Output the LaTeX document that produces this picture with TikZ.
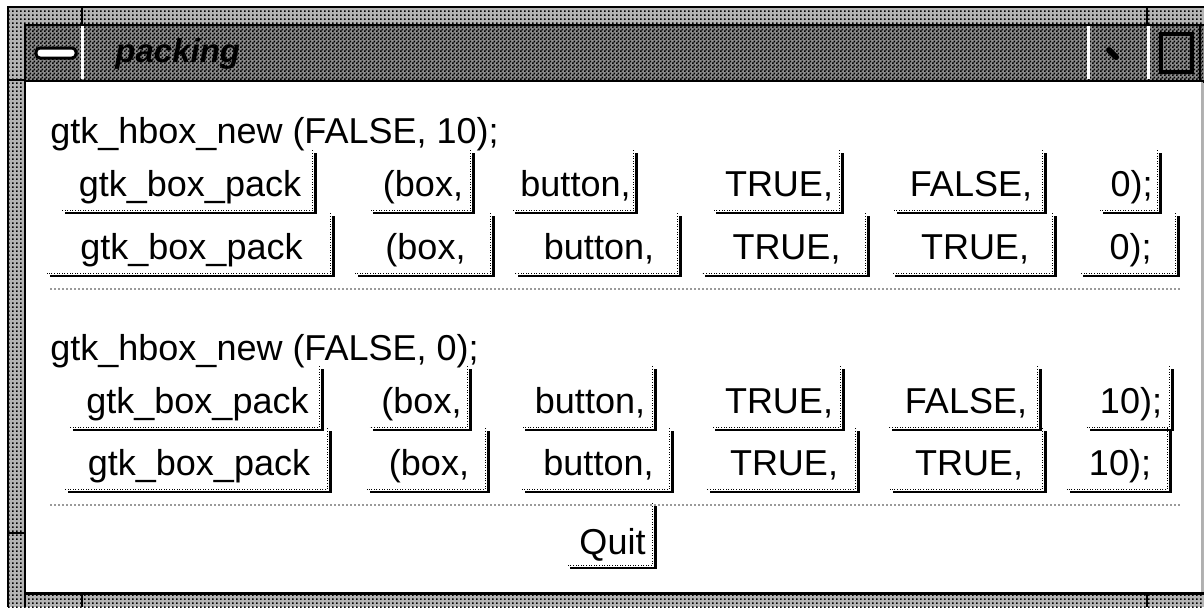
\documentclass[tikz,border=0pt]{standalone}
\usepackage{fontspec}
\setmainfont{Liberation Sans}
\usepackage{tikz}
\usetikzlibrary{patterns,positioning}
\definecolor{inkc}{HTML}{000000}
\definecolor{sepc}{HTML}{9A9A9A}
\definecolor{edgec}{HTML}{B0B0B0}
\definecolor{barc}{HTML}{8C8C8C}
\definecolor{rimc}{HTML}{B4B4B4}
% checker dither for the title bar, sparse one for the window rim
\pgfdeclarepatternformonly{dither}{\pgfqpoint{0pt}{0pt}}{\pgfqpoint{2pt}{2pt}}{\pgfqpoint{2pt}{2pt}}{%
  \pgfpathrectangle{\pgfqpoint{0pt}{0pt}}{\pgfqpoint{1pt}{1pt}}%
  \pgfpathrectangle{\pgfqpoint{1pt}{1pt}}{\pgfqpoint{1pt}{1pt}}%
  \pgfusepath{fill}}
\pgfdeclarepatternformonly{lightdither}{\pgfqpoint{0pt}{0pt}}{\pgfqpoint{2pt}{2pt}}{\pgfqpoint{2pt}{2pt}}{%
  \pgfpathrectangle{\pgfqpoint{0pt}{0pt}}{\pgfqpoint{1pt}{1pt}}%
  \pgfusepath{fill}}
\tikzset{
  btn/.style={inner sep=0pt,anchor=south,text depth=8pt,font=\fontsize{18}{20}\selectfont},
  lbl/.style={inner sep=0pt,anchor=base west,font=\fontsize{18}{20}\selectfont},
  btnedge/.style={inkc,line width=1.2pt},
  btndots/.style={inkc,line width=0.6pt,dash pattern=on 0.5pt off 0.8pt},
  sep/.style={sepc,line width=0.6pt,dash pattern=on 1pt off 1pt},
  rim/.style={pattern=lightdither,pattern color=inkc},
  bar/.style={pattern=dither,pattern color=inkc}
}

\begin{document}
\begin{tikzpicture}[x=0.5pt,y=-0.5pt]
\useasboundingbox (0,0) rectangle (1204,607);
\fill[white] (0,0) rectangle (1204,607);
% window rim with resize handles
\fill[rimc] (8,7) rectangle (1204,607);
\fill[rim] (8,7) rectangle (1204,607);
\draw[inkc,line width=1.2pt] (8,607) -- (8,7) -- (1204,7);
\draw[inkc,line width=1pt] (82,7) -- (82,25) (1147,7) -- (1147,25)
  (8,80) -- (25,80) (8,533) -- (25,533) (82,593) -- (82,607) (1147,593) -- (1147,607);
% title bar
\fill[barc] (25,25) rectangle (1204,81);
\fill[bar] (25,25) rectangle (1204,81);
\draw[inkc,line width=1pt] (25,607) -- (25,25) -- (1204,25);
\draw[inkc,line width=1.5pt] (25,81) -- (1204,81);
\draw[white,line width=1.5pt] (82,26) -- (82,79) (1088,26) -- (1088,79) (1148,26) -- (1148,79);
\draw[inkc,line width=1.5pt,fill=white,rounded corners=2pt] (36,48) rectangle (76,58);
\node[inner sep=0pt,anchor=base west,font=\fontsize{16.5}{18}\selectfont\bfseries\itshape] (title) at (115,62) {packing};
\draw[inkc,line width=3pt,line cap=round] (1109,50) -- (1116,57);
\draw[inkc,line width=2pt] (1161,34) rectangle (1192,72);
\draw[inkc,line width=1pt] (1200,25) -- (1200,81);
% client area
\fill[white] (26,82) rectangle (1203,592);
\draw[edgec,line width=0.6pt] (1202,82) -- (1202,592);
\draw[inkc,line width=1.5pt] (25,593) -- (1204,593);

% first box: spacing 10
\node[lbl] (hbox1) at (50,143) {gtk\_hbox\_new (FALSE, 10);};
\foreach \l/\r/\t [count=\i] in {65/315/{gtk\_box\_pack},373/473/{(box,},515/636/{button,},
    716/842/{TRUE,},897/1045/{FALSE,},1103/1160/{0);}}
{
  \pgfmathsetmacro\w{(\r-\l)/2}
  \node[btn,minimum width=\w pt,text height=21.5pt] (a\i) at ({(\l+\r)/2},213) {\t};
  \draw[btnedge] (a\i.north east) -- (a\i.south east) -- (a\i.south west);
  \draw[btndots] ([shift={(-1.4pt,1.4pt)}]a\i.north east) -- ([shift={(-1.4pt,1.4pt)}]a\i.south east) -- ([shift={(-1.4pt,1.4pt)}]a\i.south west);
}
\foreach \l/\r/\t [count=\i] in {50/333/{gtk\_box\_pack},358/493/{(box,},518/680/{button,},
    705/868/{TRUE,},895/1055/{TRUE,},1083/1178/{0);}}
{
  \pgfmathsetmacro\w{(\r-\l)/2}
  \node[btn,minimum width=\w pt,text height=21.5pt] (b\i) at ({(\l+\r)/2},276) {\t};
  \draw[btnedge] (b\i.north east) -- (b\i.south east) -- (b\i.south west);
  \draw[btndots] ([shift={(-1.4pt,1.4pt)}]b\i.north east) -- ([shift={(-1.4pt,1.4pt)}]b\i.south east) -- ([shift={(-1.4pt,1.4pt)}]b\i.south west);
}
\draw[sep] (50,289) -- (1180,289);

% second box: padding 10
\node[lbl] (hbox2) at (50,360) {gtk\_hbox\_new (FALSE, 0);};
\foreach \l/\r/\t [count=\i] in {73/322/{gtk\_box\_pack},373/470/{(box,},525/655/{button,},
    715/843/{TRUE,},892/1040/{FALSE,},1090/1172/{10);}}
{
  \pgfmathsetmacro\w{(\r-\l)/2}
  \node[btn,minimum width=\w pt,text height=22pt] (c\i) at ({(\l+\r)/2},430) {\t};
  \draw[btnedge] (c\i.north east) -- (c\i.south east) -- (c\i.south west);
  \draw[btndots] ([shift={(-1.4pt,1.4pt)}]c\i.north east) -- ([shift={(-1.4pt,1.4pt)}]c\i.south east) -- ([shift={(-1.4pt,1.4pt)}]c\i.south west);
}
\foreach \l/\r/\t [count=\i] in {68/330/{gtk\_box\_pack},370/488/{(box,},525/672/{button,},
    710/858/{TRUE,},893/1045/{TRUE,},1070/1170/{10);}}
{
  \pgfmathsetmacro\w{(\r-\l)/2}
  \node[btn,minimum width=\w pt,text height=22pt] (d\i) at ({(\l+\r)/2},492) {\t};
  \draw[btnedge] (d\i.north east) -- (d\i.south east) -- (d\i.south west);
  \draw[btndots] ([shift={(-1.4pt,1.4pt)}]d\i.north east) -- ([shift={(-1.4pt,1.4pt)}]d\i.south east) -- ([shift={(-1.4pt,1.4pt)}]d\i.south west);
}
\draw[sep] (50,505) -- (1180,505);

% quit
\node[btn,minimum width=42.5pt,text height=24pt,text depth=6.5pt] (quit) at (612.5,568) {Quit};
\draw[btnedge] (quit.north east) -- (quit.south east) -- (quit.south west);
\draw[btndots] ([shift={(-1.4pt,1.4pt)}]quit.north east) -- ([shift={(-1.4pt,1.4pt)}]quit.south east) -- ([shift={(-1.4pt,1.4pt)}]quit.south west);
\end{tikzpicture}
\end{document}
